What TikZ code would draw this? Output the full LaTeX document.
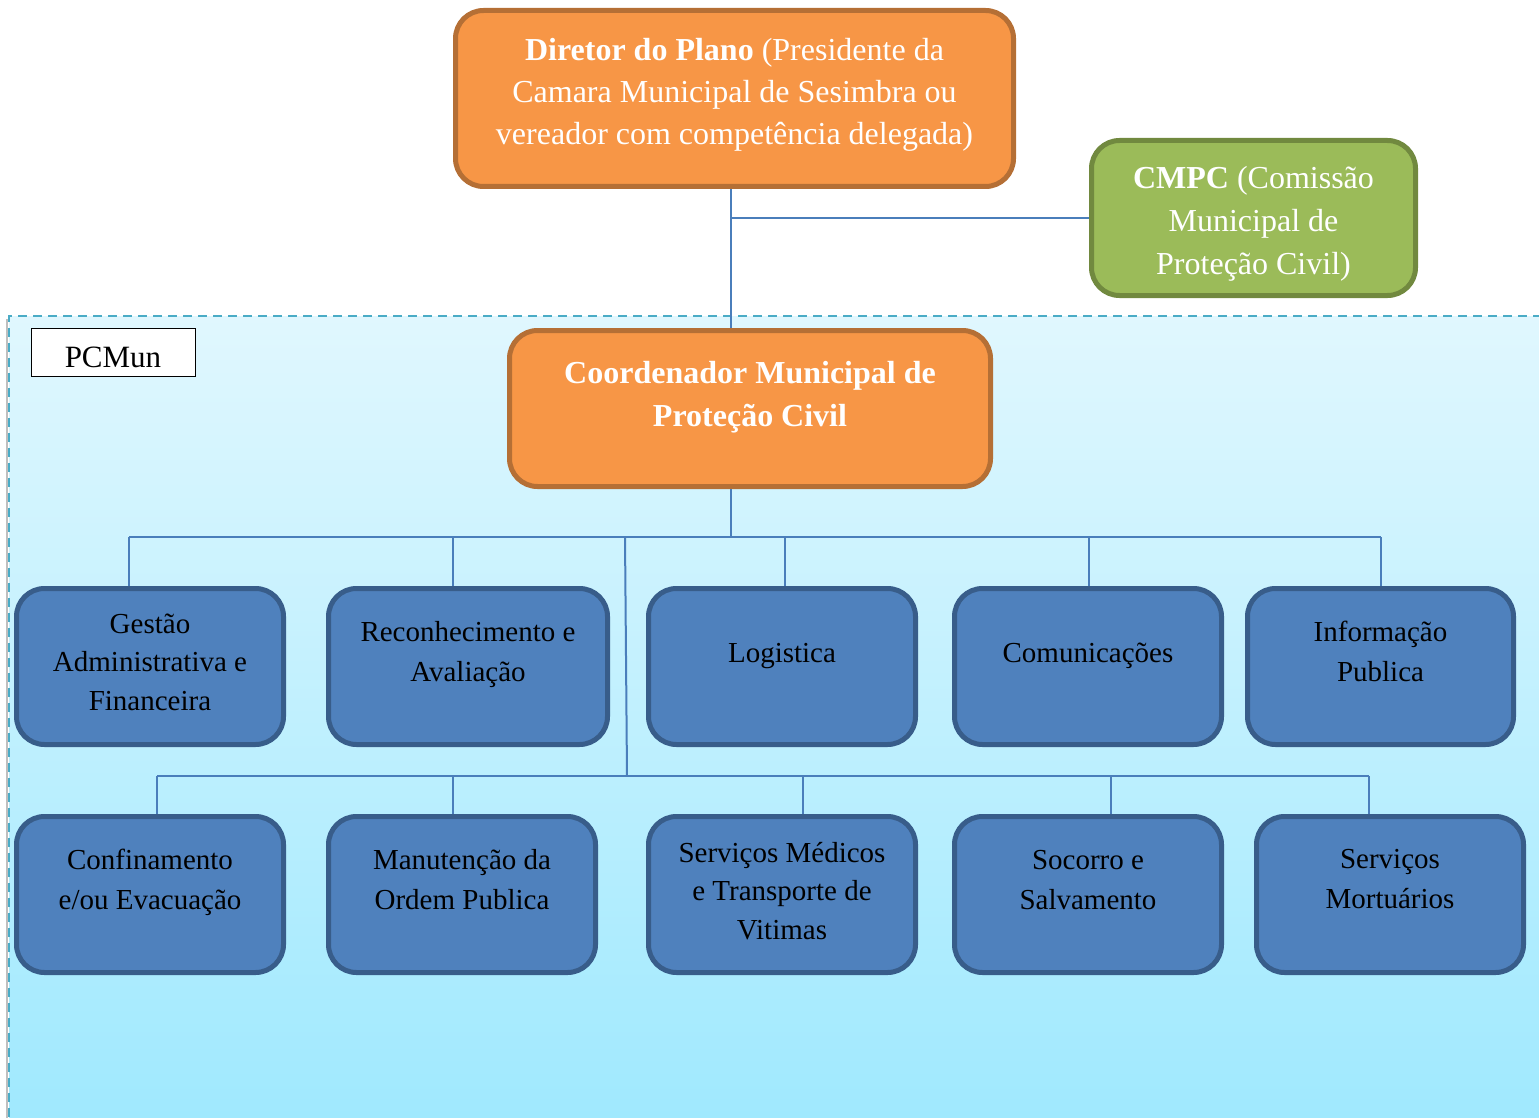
\documentclass[tikz,border=0pt]{standalone}
\usepackage{fontspec}
\setmainfont{Liberation Serif}
\definecolor{orfill}{HTML}{F79646}
\definecolor{ordraw}{HTML}{B56F35}
\definecolor{grfill}{HTML}{9BBB59}
\definecolor{grdraw}{HTML}{71893F}
\definecolor{blfill}{HTML}{4F81BD}
\definecolor{bldraw}{HTML}{385D8A}
\definecolor{connc}{HTML}{4A7EBB}
\definecolor{zonetop}{HTML}{E0F7FE}
\definecolor{zonebot}{HTML}{A0E9FE}
\definecolor{zoneline}{HTML}{4BACC6}
\begin{document}
\begin{tikzpicture}[x=1pt,y=-1pt,
  box/.style={rectangle, rounded corners=28pt, line width=5pt, inner sep=0pt},
  orangebox/.style={box, fill=orfill, draw=ordraw},
  greenbox/.style={box, fill=grfill, draw=grdraw},
  bluebox/.style={box, fill=blfill, draw=bldraw, minimum height=156pt},
  headtext/.style={align=center, inner sep=0pt, text=white, font=\fontsize{32}{42}\selectfont},
  unittext/.style={align=center, inner sep=0pt, text=black, font=\fontsize{29}{40}\selectfont},
  unittextb/.style={align=center, inner sep=0pt, text=black, font=\fontsize{29}{38.5}\selectfont},
  conn/.style={draw=connc, line width=2pt},
]
\useasboundingbox (0,0) rectangle (1539,1118);

% PCMun zone with gradient background
\draw[black!25, line width=1.5pt] (7,319) -- (7,1118);
\shade[top color=zonetop, bottom color=zonebot] (9,316) rectangle (1545,1117);
\draw[zoneline, line width=2pt, dash pattern=on 9pt off 6pt] (9,1117) -- (9,316) -- (1545,316);
\node[draw=black, line width=1pt, fill=white, minimum width=164pt, minimum height=48pt, inner sep=0pt] (pcmun) at (113,352) {};
\node[anchor=base, inner sep=0pt, font=\fontsize{31}{36}\selectfont] (pcmuntxt) at (113,367) {PCMun};

% top-level boxes
\node[orangebox, minimum width=558pt, minimum height=176pt] (dir) at (734.5,98.5) {};
\node[greenbox, minimum width=324pt, minimum height=155pt] (cmpc) at (1253.5,218) {};
\node[orangebox, minimum width=481pt, minimum height=156pt] (coord) at (750,408.5) {};

% first row of units
\node[bluebox, minimum width=267pt] (g1) at (150,666.5) {};
\node[bluebox, minimum width=279pt] (g2) at (468,666.5) {};
\node[bluebox, minimum width=267pt] (g3) at (782,666.5) {};
\node[bluebox, minimum width=267pt] (g4) at (1088,666.5) {};
\node[bluebox, minimum width=266pt] (g5) at (1380.5,666.5) {};

% second row of units
\node[bluebox, minimum width=267pt] (h1) at (150,894.5) {};
\node[bluebox, minimum width=267pt] (h2) at (462,894.5) {};
\node[bluebox, minimum width=267pt] (h3) at (782,894.5) {};
\node[bluebox, minimum width=267pt] (h4) at (1088,894.5) {};
\node[bluebox, minimum width=267pt] (h5) at (1390,894.5) {};

% labels
\node[headtext, anchor=north] (dirtxt) at (dir.north |- 0,30.6)
  {\strut\textbf{Diretor do Plano} (Presidente da\\Camara Municipal de Sesimbra ou\\vereador com competência delegada)};
\node[headtext, anchor=north, font=\fontsize{32}{43}\selectfont] (cmpctxt) at (cmpc.north |- 0,157.9)
  {\strut\textbf{CMPC} (Comissão\\Municipal de\\Proteção Civil)};
\node[headtext, anchor=north, font=\fontsize{32}{43.5}\selectfont\bfseries] (coordtxt) at (coord.north |- 0,352.5)
  {\strut Coordenador Municipal de\\Proteção Civil};

\node[unittextb, anchor=north] (g1txt) at (g1.north |- 0,606) {\strut Gestão\\Administrativa e\\Financeira};
\node[unittext, anchor=north] (g2txt) at (g2.north |- 0,613) {\strut Reconhecimento e\\Avaliação};
\node[unittext, anchor=base] (g3txt) at (g3.north |- 0,662) {Logistica};
\node[unittext, anchor=base] (g4txt) at (g4.north |- 0,662) {Comunicações};
\node[unittext, anchor=north] (g5txt) at (g5.north |- 0,613) {\strut Informação\\Publica};

\node[unittext, anchor=north] (h1txt) at (h1.north |- 0,841) {\strut Confinamento\\e/ou Evacuação};
\node[unittext, anchor=north] (h2txt) at (h2.north |- 0,841) {\strut Manutenção da\\Ordem Publica};
\node[unittextb, anchor=north] (h3txt) at (h3.north |- 0,835) {\strut Serviços Médicos\\e Transporte de\\Vitimas};
\node[unittext, anchor=north] (h4txt) at (h4.north |- 0,841) {\strut Socorro e\\Salvamento};
\node[unittext, anchor=north] (h5txt) at (h5.north |- 0,840) {\strut Serviços\\Mortuários};

% junction points of the connector lines
\coordinate (jc) at (731,218);
\coordinate (jb) at (731,537);
\coordinate (js) at (625,537);
\coordinate (je) at (627,776);
\coordinate (a1) at (129,537);
\coordinate (a2) at (453,537);
\coordinate (a3) at (785,537);
\coordinate (a4) at (1089,537);
\coordinate (a5) at (1381,537);
\coordinate (b1) at (157,776);
\coordinate (b2) at (453,776);
\coordinate (b3) at (803,776);
\coordinate (b4) at (1111,776);
\coordinate (b5) at (1369,776);

% connectors
\draw[conn] (dir.south -| jc) -- (coord.north -| jc);
\draw[conn] (jc) -- (cmpc.west);
\draw[conn] (coord.south -| jb) -- (jb);
\draw[conn] (a1) -- (a5);
\draw[conn] (a1) -- (a1 |- g1.north);
\draw[conn] (a2) -- (a2 |- g2.north);
\draw[conn] (a3) -- (a3 |- g3.north);
\draw[conn] (a4) -- (a4 |- g4.north);
\draw[conn] (a5) -- (a5 |- g5.north);
\draw[conn] (js) -- (je);
\draw[conn] (b1) -- (b5);
\draw[conn] (b1) -- (b1 |- h1.north);
\draw[conn] (b2) -- (b2 |- h2.north);
\draw[conn] (b3) -- (b3 |- h3.north);
\draw[conn] (b4) -- (b4 |- h4.north);
\draw[conn] (b5) -- (b5 |- h5.north);
\end{tikzpicture}
\end{document}
